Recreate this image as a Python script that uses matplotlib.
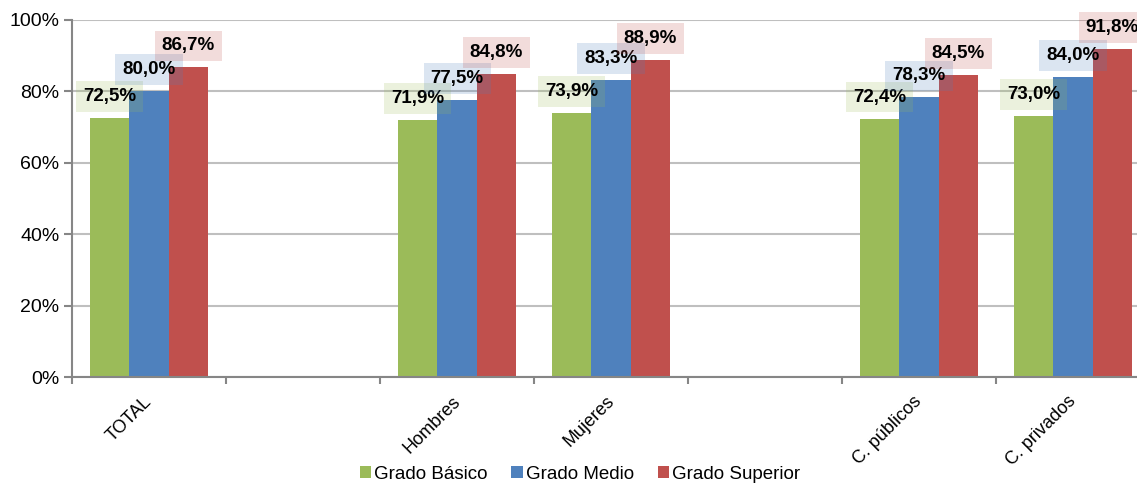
import numpy as np
import matplotlib.pyplot as plt

plt.rcParams['font.family'] = ['Liberation Sans', 'DejaVu Sans']

categorias = ['TOTAL', '', 'Hombres', 'Mujeres', '', 'C. públicos', 'C. privados']
basico = [72.5, None, 71.9, 73.9, None, 72.4, 73.0]
medio = [80.0, None, 77.5, 83.3, None, 78.3, 84.0]
superior = [86.7, None, 84.8, 88.9, None, 84.5, 91.8]
series = ['Grado Básico', 'Grado Medio', 'Grado Superior']
colores = ['#9BBB59', '#4F81BD', '#C0504D']

fig = plt.figure(figsize=(11.37, 4.83), dpi=100)
ax = fig.add_axes([72/1137, 106/483, 1078/1137, 357/483])

x = np.arange(len(categorias))
w = 0.255
for k, (vals, nombre, c) in enumerate(zip([basico, medio, superior], series, colores)):
    idx = [i for i, v in enumerate(vals) if v is not None]
    v = [vals[i] for i in idx]
    pos = x[idx] + (k - 1) * w
    ax.bar(pos, v, width=w, color=c, label=nombre, zorder=2)
    for p, val in zip(pos, v):
        ax.annotate(f'{val:.1f}%'.replace('.', ','), xy=(p, val), xytext=(0, 15.5),
                    textcoords='offset points', ha='center', va='center',
                    fontsize=13.5, fontweight='bold', zorder=4,
                    bbox=dict(boxstyle='square,pad=0.37', fc=c, ec='none', alpha=0.2))

ax.set_xlim(-0.5, len(categorias) - 0.5)
ax.set_ylim(0, 100)
ax.set_yticks(range(0, 101, 20))
ax.set_yticklabels([f'{t}%' for t in range(0, 101, 20)], fontsize=14)
ax.set_xticks(np.arange(-0.5, len(categorias), 1))
ax.set_xticklabels([])
ax.tick_params(axis='x', length=5, width=1.5, color='#868686')
ax.tick_params(axis='y', length=6, width=1.5, color='#868686', pad=3)

# etiquetas de categoría giradas
for xi, cat in zip(x, categorias):
    ax.annotate(cat, xy=(xi, 0), xycoords=('data', 'axes fraction'),
                xytext=(-4, -11.5), textcoords='offset points',
                rotation=45, ha='right', va='top', rotation_mode='anchor', fontsize=13)

ax.grid(axis='y', color='#BFBFBF', linewidth=1.5, zorder=0)
ax.set_axisbelow(True)
for s in ['top', 'right']:
    ax.spines[s].set_visible(False)
for s in ['left', 'bottom']:
    ax.spines[s].set_color('#868686')
    ax.spines[s].set_linewidth(1.5)

fig.legend(loc='lower center', bbox_to_anchor=(0.51, -0.034), ncol=3, frameon=False,
           fontsize=13.5, handlelength=0.6, handleheight=0.6, handletextpad=0.15, columnspacing=1.3)

fig.savefig('out.png', dpi=100)
